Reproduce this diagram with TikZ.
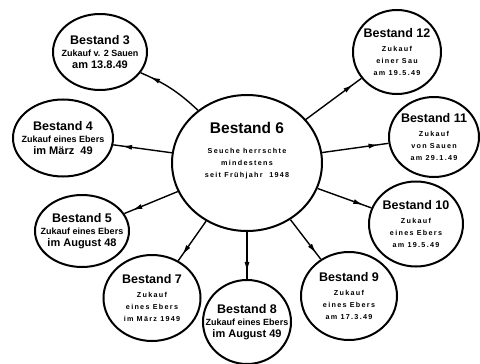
\documentclass[tikz,border=0pt]{standalone}
\usepackage{fontspec}
\setmainfont{Liberation Sans}
\usetikzlibrary{shapes.geometric, arrows.meta, decorations.markings}

\newcommand{\herdtitle}[1]{{\fontsize{12.5}{14}\selectfont\bfseries #1}}
\newcommand{\herdinfo}[1]{{\fontsize{9}{11}\selectfont\bfseries #1}}
\newcommand{\herddate}[1]{{\fontsize{11}{13}\selectfont\bfseries #1}}
\newcommand{\herdsmall}[1]{{\fontsize{7.2}{9}\selectfont\bfseries\addfontfeature{LetterSpace=18}#1}}

\tikzset{
  herd/.style={ellipse, draw, line width=2pt, inner sep=0pt},
  herdtext/.style={align=center, inner sep=0pt, font=\fontsize{7}{12}\selectfont},
  spread/.style={line width=1.4pt, postaction={decorate},
    decoration={markings, mark=at position 0.85 with {\arrow{Latex[length=10pt, width=5pt]}}}}
}

\begin{document}
\begin{tikzpicture}[x=1pt, y=-1pt]
  \useasboundingbox (0,0) rectangle (480,364);

  % the source herd
  \node[herd, minimum width=150pt, minimum height=136pt] (b6) at (247,163) {};
  \node[herdtext] (t6) at ([yshift=12pt]b6) {{\fontsize{15.5}{17}\selectfont\bfseries Bestand 6}\\[8pt]
    \herdsmall{Seuche herrschte}\\ \herdsmall{mindestens}\\ \herdsmall{seit Frühjahr \ 1948}};

  % herds supplied from it
  \node[herd, minimum width=94pt, minimum height=76pt] (b3) at (100,52) {};
  \node[herdtext] (t3) at (b3) {\herdtitle{Bestand 3}\\ \herdinfo{Zukauf v. 2 Sauen}\\ \herddate{am 13.8.49}};

  \node[herd, minimum width=100pt, minimum height=77pt] (b4) at (63,138) {};
  \node[herdtext] (t4) at (b4) {\herdtitle{Bestand 4}\\ \herdinfo{Zukauf eines Ebers}\\ \herddate{im März \ 49}};

  \node[herd, minimum width=94pt, minimum height=72pt] (b5) at (82,231) {};
  \node[herdtext] (t5) at (b5) {\herdtitle{Bestand 5}\\ \herdinfo{Zukauf eines Ebers}\\ \herddate{im August 48}};

  \node[herd, minimum width=97pt, minimum height=86pt] (b7) at (152,298) {};
  \node[herdtext] (t7) at (b7) {\herdtitle{Bestand 7}\\[2pt] \herdsmall{Zukauf}\\ \herdsmall{eines Ebers}\\ \herdsmall{im März 1949}};

  \node[herd, minimum width=88pt, minimum height=84pt] (b8) at (247,322) {};
  \node[herdtext] (t8) at (b8) {\herdtitle{Bestand 8}\\ \herdinfo{Zukauf eines Ebers}\\ \herddate{im August 49}};

  \node[herd, minimum width=96pt, minimum height=88pt] (b9) at (349,296) {};
  \node[herdtext] (t9) at (b9) {\herdtitle{Bestand 9}\\[2pt] \herdsmall{Zukauf}\\ \herdsmall{eines Ebers}\\ \herdsmall{am 17.3.49}};

  \node[herd, minimum width=94pt, minimum height=85pt] (b10) at (416,224) {};
  \node[herdtext] (t10) at (b10) {\herdtitle{Bestand 10}\\[2pt] \herdsmall{Zukauf}\\ \herdsmall{eines Ebers}\\ \herdsmall{am 19.5.49}};

  \node[herd, minimum width=90pt, minimum height=80pt] (b11) at (434,137) {};
  \node[herdtext] (t11) at (b11) {\herdtitle{Bestand 11}\\[2pt] \herdsmall{Zukauf}\\ \herdsmall{von Sauen}\\ \herdsmall{am 29.1.49}};

  \node[herd, minimum width=88pt, minimum height=84pt] (b12) at (397,52) {};
  \node[herdtext] (t12) at (b12) {\herdtitle{Bestand 12}\\[2pt] \herdsmall{Zukauf}\\ \herdsmall{einer Sau}\\ \herdsmall{am 19.5.49}};

  % spread of the disease
  \draw[spread] (b6) to[bend right=10] (b3);
  \draw[spread] (b6) -- (b4);
  \draw[spread] (b6) -- (b5);
  \draw[spread] (b6) -- (b7);
  \draw[spread] (b6) -- (b8);
  \draw[spread] (b6) -- (b9);
  \draw[spread] (b6) -- (b10);
  \draw[spread] (b6) -- (b11);
  \draw[spread] (b6) -- (b12);
\end{tikzpicture}
\end{document}
